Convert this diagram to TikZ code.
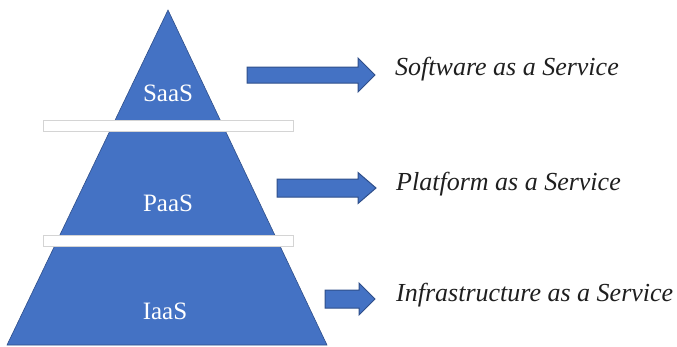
\documentclass[tikz,border=0pt]{standalone}
\usepackage{fontspec}
\setmainfont{Liberation Serif}
\definecolor{tierblue}{HTML}{4472C4}
\definecolor{tieredge}{HTML}{2F4F8A}
\definecolor{gapline}{HTML}{D4D4D4}
\begin{document}
\begin{tikzpicture}[x=1pt,y=-1pt,
  tier/.style={fill=tierblue,draw=tieredge,line width=0.6pt},
  gapbar/.style={fill=white,draw=gapline,line width=0.8pt},
  tiername/.style={text=white,font=\fontsize{25}{28}\selectfont,inner sep=0pt},
  blockarrow/.style={fill=tierblue,draw=tieredge,line width=1pt,line join=miter},
  service/.style={anchor=base west,inner sep=0pt,text=black!88,font=\fontsize{26}{30}\selectfont\itshape}]
  \useasboundingbox (0,0) rectangle (677,346);

  % the pyramid
  \draw[tier] (168,10) -- (327,345) -- (7,345) -- cycle;

  % white separators between the layers
  \draw[gapbar] (43,120) rectangle (293,131);
  \draw[gapbar] (43,235) rectangle (293,246);

  % layer names
  \node[tiername] (saas) at (168,93) {SaaS};
  \node[tiername] (paas) at (168,203) {PaaS};
  \node[tiername] (iaas) at (165,311) {IaaS};

  % block arrows: left end, shaft end, tip, centre line, half shaft, half head
  \newcommand\blockarrowat[6]{%
    \draw[blockarrow] (#1,#4-#5) -- (#2,#4-#5) -- (#2,#4-#6) -- (#3,#4)
      -- (#2,#4+#6) -- (#2,#4+#5) -- (#1,#4+#5) -- cycle;}
  \blockarrowat{247}{358}{375}{75}{8}{17}
  \blockarrowat{277}{358}{376}{188}{9}{15.5}
  \blockarrowat{325}{359}{375}{299}{9}{16}

  % service descriptions
  \node[service] (sw) at (395,75) {Software as a Service};
  \node[service] (pf) at (396,190) {Platform as a Service};
  \node[service] (inf) at (396,301) {Infrastructure as a Service};
\end{tikzpicture}
\end{document}
